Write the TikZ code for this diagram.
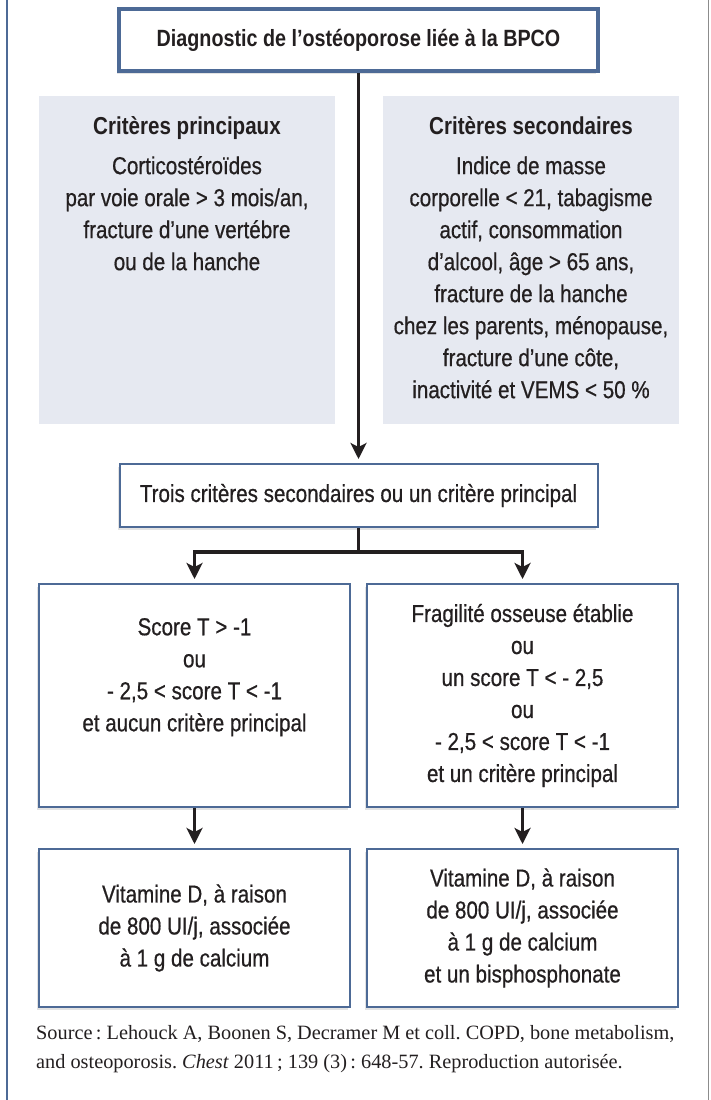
\documentclass[tikz,border=0pt]{standalone}
\usepackage{fontspec}
\setmainfont[FakeStretch=0.84]{Liberation Sans}
\newfontfamily\bodyfont[FakeStretch=0.84,FakeBold=0.6]{Liberation Sans}
\newfontfamily\srcfont{Liberation Serif}
\usepackage{xcolor}
\usepackage{tikz}
\usetikzlibrary{arrows.meta}
\usetikzlibrary{shadows}
\definecolor{frameblue}{HTML}{4D6A96}
\definecolor{critgrey}{HTML}{E6E9F1}
\definecolor{ink}{HTML}{231F20}
\tikzset{
box/.style={
  rectangle,
  draw=frameblue,
  line width=2pt,
  fill=white,
  align=center,
  text=ink,
  inner sep=0pt,
  font=\bodyfont\fontsize{24.5}{32}\selectfont,
  drop shadow={shadow xshift=-2pt,shadow yshift=-3pt,opacity=0.22}
},
titlebox/.style={box,line width=4pt,font=\fontsize{23.5}{32}\selectfont\bfseries},
crit/.style={anchor=north,align=center,text=ink,inner sep=0pt,
  font=\bodyfont\fontsize{24.5}{32}\selectfont},
conn/.style={
  draw=ink,
  line width=3.5pt,
  -{Stealth[length=16pt,width=16pt,inset=4pt]},
  shorten >=4pt
},
}
\frenchspacing

\begin{document}
\begin{tikzpicture}[x=1pt,y=-1pt]
\useasboundingbox (0,0) rectangle (710,1100);
% the frame
\draw[frameblue,line width=2pt] (7,0) -- (7,1100);
\draw[black!45,line width=1pt] (708,0) -- (708,1100);
% the criteria panels
\fill[critgrey] (39,96) rectangle (335,424);
\fill[critgrey] (383,96) rectangle (679,424);
\node[crit] (crit-p) at (187,116)
  {{\normalfont\bfseries Critères principaux}\\[8pt]
   Corticostéroïdes\\
   par voie orale > 3 mois/an,\\
   fracture d’une vertébre\\
   ou de la hanche};
\node[crit] (crit-s) at (531,116)
  {{\normalfont\bfseries Critères secondaires}\\[8pt]
   Indice de masse\\
   corporelle < 21, tabagisme\\
   actif, consommation\\
   d’alcool, âge > 65 ans,\\
   fracture de la hanche\\
   chez les parents, ménopause,\\
   fracture d’une côte,\\
   inactivité et VEMS < 50 \%};
% the boxes
\node[titlebox,minimum width=479pt,minimum height=62pt] (title) at (358.5,40)
  {Diagnostic de l’ostéoporose liée à la BPCO};
\node[box,minimum width=478pt,minimum height=63pt] (trois) at (358.5,495.5)
  {Trois critères secondaires ou un critère principal};
\node[box,minimum width=311pt,minimum height=223pt] (score-a) at (194.5,695.5)
  {Score T > -1\\
   ou\\
   - 2,5 < score T < -1\\
   et aucun critère principal\\ \strut};
\node[box,minimum width=311pt,minimum height=223pt] (score-b) at (522.5,695.5)
  {Fragilité osseuse établie\\
   ou\\
   un score T < - 2,5\\
   ou\\
   - 2,5 < score T < -1\\
   et un critère principal};
\node[box,minimum width=311pt,minimum height=158pt] (vit-a) at (194.5,928)
  {Vitamine D, à raison\\
   de 800 UI/j, associée\\
   à 1 g de calcium};
\node[box,minimum width=311pt,minimum height=158pt] (vit-b) at (522.5,928)
  {Vitamine D, à raison\\
   de 800 UI/j, associée\\
   à 1 g de calcium\\
   et un bisphosphonate};
% the source
\node[anchor=north west,align=left,inner sep=0pt,text=ink,
  font=\srcfont\fontsize{20.3}{29}\selectfont] (src) at (36,1025)
  {Source\,: Lehouck A, Boonen S, Decramer M et coll. COPD, bone metabolism,\\
   and osteoporosis. \textit{Chest} 2011\,; 139 (3)\,: 648-57. Reproduction autorisée.};
% the arrows
\draw[conn] (title.south) -- (trois.north);
\foreach \x in {score-a,score-b}
{
  \draw[conn] (trois.south) -- ++(0,24) -| (\x.north);
}
\foreach \x/\y in {score-a/vit-a,score-b/vit-b}
{
  \draw[conn] (\x.south) -- (\y.north);
}
\end{tikzpicture}
\end{document}
